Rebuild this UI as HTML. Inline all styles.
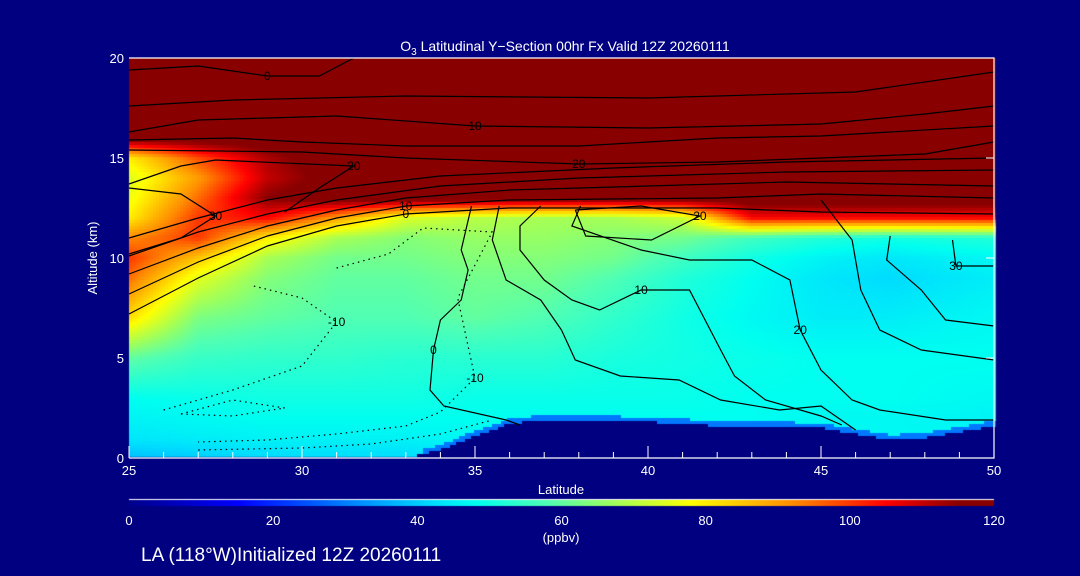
<!DOCTYPE html>
<html><head><meta charset="utf-8">
<style>
html,body{margin:0;padding:0;background:#000080;}
#wrap{position:relative;width:1080px;height:576px;background:#000080;overflow:hidden;font-family:"Liberation Sans",sans-serif;}
canvas{position:absolute;left:0;top:0;}
svg{position:absolute;left:0;top:0;}
text{fill:#fff;font-family:"Liberation Sans",sans-serif;}
</style></head>
<body>
<div id="wrap">
<canvas id="cv" width="1080" height="576"></canvas>
<svg id="sv" width="1080" height="576"></svg>
</div>
<script>
// ---- data ----
const lats = [25,27,29,31,33,35,37,39,41,43,45,47,50];
const alts = [0,1,2,3,5,7,9,10,11,12,13,14,15,16,18,20];
const ozone = [
 [38,40,42,42,42,45,45,45,45,45,45,45,45],
 [44,45,46,46,46,47,47,47,47,47,47,47,47],
 [46,47,48,48,48,48,48,48,48,48,47,47,46],
 [48,49,50,50,50,49,49,49,49,48,48,48,47],
 [60,55,54,54,53,53,53,51,50,49,48,48,48],
 [82,63,60,58,58,60,58,54,50,47,45,45,47],
 [95,75,64,60,60,62,62,58,52,48,44,42,45],
 [100,85,68,62,62,64,64,62,56,50,46,44,47],
 [92,100,80,68,64,66,66,64,62,56,52,50,52],
 [80,100,105,90,74,70,68,68,72,105,105,105,105],
 [76,95,115,120,120,120,120,120,120,120,120,120,120],
 [74,90,110,118,120,120,120,120,120,120,120,120,120],
 [80,98,112,120,120,120,120,120,120,120,120,120,120],
 [120,120,120,120,120,120,120,120,120,120,120,120,120],
 [120,120,120,120,120,120,120,120,120,120,120,120,120],
 [120,120,120,120,120,120,120,120,120,120,120,120,120]
];
const terrainLats = [25,33,34,35,36,37,40,42,45,46,47,48,49,50];
const terrainAlts = [0,0,0.4,1.1,1.7,1.9,1.8,1.6,1.5,1.2,0.9,1.0,1.3,1.6];
const xTicks = [25,30,35,40,45,50];
const yTicks = [0,5,10,15,20];
const cbTicks = [0,20,40,60,80,100,120];
const contours = [
 {lv:"0",pts:[[25,19.4],[27,19.6],[29,19.1],[30.5,19.1],[31.5,20]]},
 {lv:"",pts:[[25,17.6],[28,17.9],[33,18.1],[40,18.0],[46,18.3],[50,19.3]]},
 {lv:"10",pts:[[25,16.3],[27,16.9],[29,17.0],[31,17.1],[35,16.6],[40,16.5],[45,16.7],[48,17.2],[50,17.6]]},
 {lv:"",pts:[[25,15.9],[28,16.0],[30,15.8],[33,15.6],[38,15.6],[42,16.0],[45,16.1],[50,16.6]]},
 {lv:"20",pts:[[25,15.4],[30,15.3],[33,15.0],[38,14.7],[42,14.8],[48,15.2],[50,15.8]]},
 {lv:"",pts:[[25,11.0],[27,12.0],[29,12.9],[31,13.5],[34,14.1],[39,14.5],[44,14.8],[50,15.0]]},
 {lv:"",pts:[[25,10.1],[27,11.3],[29,12.2],[31,12.9],[34,13.6],[38,14.0],[44,14.3],[50,14.4]]},
 {lv:"",pts:[[25,9.2],[27,10.5],[29,11.6],[31,12.4],[33,13.0],[36,13.4],[40,13.6],[44,13.8],[50,13.6]]},
 {lv:"10",pts:[[25,8.2],[27,9.8],[29,11.1],[31,12.0],[33,12.6],[36,12.9],[42,13.0],[45,13.2],[50,13.0]]},
 {lv:"0",pts:[[25,7.2],[27,9.0],[29,10.6],[31,11.6],[33,12.2],[36,12.5],[42,12.5],[45,12.3],[50,12.2]]},
 {lv:"20",pts:[[25,13.7],[26.5,14.6],[27.5,14.9],[31.5,14.6],[30.5,13.5],[29.5,12.3]]},
 {lv:"30",pts:[[25,10.2],[26.5,11.0],[27.5,12.1],[26.5,13.2],[25,13.5]]},
 {lv:"0",pts:[[34.9,12.6],[34.6,10.4],[34.8,9.4],[34.6,7.9],[34.0,6.9],[33.8,5.4],[33.7,3.4],[34.1,2.6],[35.9,1.9],[36.3,1.65]]},
 {lv:"",pts:[[35.7,12.6],[35.5,10.9],[35.9,8.9],[36.9,7.9],[37.5,6.4],[37.9,4.9],[39.2,4.1],[40.9,3.9],[42.1,2.9],[43.8,2.4],[45.0,2.6],[46.0,1.4]]},
 {lv:"10",pts:[[36.9,12.6],[36.3,11.6],[36.3,10.4],[37.0,8.9],[37.8,7.9],[38.6,7.4],[39.8,8.4],[41.2,8.4],[42.1,5.4],[42.5,4.1],[43.4,2.9],[45.0,2.1],[45.6,1.65]]},
 {lv:"20",pts:[[38.05,12.6],[37.8,11.6],[39.8,10.4],[41.2,9.9],[43.0,9.9],[44.1,8.9],[44.4,6.4],[45.0,4.4],[45.9,2.9],[46.7,2.4],[48.6,1.9],[50,1.9]]},
 {lv:"",pts:[[45.0,12.9],[45.9,10.9],[46.15,8.4],[46.7,6.4],[47.9,5.4],[50,4.9]]},
 {lv:"",pts:[[47.0,11.1],[46.9,9.9],[47.9,8.4],[48.6,6.9],[50,6.6]]},
 {lv:"30",pts:[[48.8,10.9],[48.9,9.6],[50,9.6]]},
 {lv:"20",pts:[[37.9,12.4],[38.2,11.1],[40.1,10.9],[41.5,12.1],[39.8,12.6],[37.9,12.4]]}
];
const dotted = [
 {lv:"-10",pts:[[31,9.5],[32.5,10.2],[33.5,11.5],[35.5,11.3],[34.5,8],[35,4],[34,2.3],[33,1.6],[31,1.2],[29,0.9],[27,0.8]]},
 {lv:"-10",pts:[[26,2.4],[28,3.4],[30,4.6],[31,6.8],[30,8.0],[28.6,8.6]]},
 {lv:"",pts:[[26.5,2.2],[28,2.1],[29.5,2.5],[28,2.9],[26.5,2.2]]},
 {lv:"",pts:[[27,0.4],[30,0.5],[32,0.7],[34,1.2],[35.5,1.9]]}
];
// ---- geometry ----
const X0=129,X1=994,Y0=458,Y1=58;
const xs = lat => X0+(lat-25)/25*(X1-X0);
const ys = alt => Y0-alt/20*(Y0-Y1);
const stops=[[0,[0,0,140]],[15,[0,0,255]],[30,[0,128,255]],[42,[0,220,255]],[48,[0,255,240]],[58,[80,255,180]],[66,[150,255,100]],[78,[255,255,0]],[92,[255,140,0]],[105,[255,0,0]],[115,[136,0,0]],[120,[136,0,0]]];
function cmap(v){v=Math.max(0,Math.min(120,v));for(let i=0;i<stops.length-1;i++){const a=stops[i],b=stops[i+1];if(v<=b[0]){const t=(v-a[0])/(b[0]-a[0]);return a[1].map((c,k)=>Math.round(c+(b[1][k]-c)*t));}}return stops[stops.length-1][1];}
function idx(arr,v){for(let i=0;i<arr.length-1;i++){if(v<=arr[i+1])return [i,(v-arr[i])/(arr[i+1]-arr[i])];}return [arr.length-2,1];}
function field(lat,alt){const [i,tx]=idx(lats,lat),[j,ty]=idx(alts,alt);const a=ozone[j][i],b=ozone[j][i+1],c=ozone[j+1][i],d=ozone[j+1][i+1];return (a*(1-tx)+b*tx)*(1-ty)+(c*(1-tx)+d*tx)*ty;}
function terrain(lat){const [i,t]=idx(terrainLats,lat);return terrainAlts[i]+(terrainAlts[i+1]-terrainAlts[i])*t;}
// ---- draw field ----
const ctx=document.getElementById('cv').getContext('2d');
const S=3;
for(let px=X0;px<X1;px+=S){for(let py=Y1;py<Y0;py+=S){
 const lat=25+(px+S/2-X0)/(X1-X0)*25, alt=(Y0-(py+S/2))/(Y0-Y1)*20;
 const tz=terrain(lat);
 let col;
 if(alt<tz) col=[0,0,128]; else if(alt<tz+0.25&&tz>0.2) col=[0,120,255]; else col=cmap(field(lat,alt));
 ctx.fillStyle='rgb('+col.join(',')+')';ctx.fillRect(px,py,S,S);
}}
// colorbar
for(let px=X0;px<X1;px++){const v=(px-X0)/(X1-X0)*120;ctx.fillStyle='rgb('+cmap(v).join(',')+')';ctx.fillRect(px,500,1,6);}
ctx.fillStyle='#fff';ctx.fillRect(X0,499,X1-X0,1);
// ---- svg ----
const NS='http://www.w3.org/2000/svg';const sv=document.getElementById('sv');
function mk(tag,attrs,parent){const e=document.createElementNS(NS,tag);for(const k in attrs)e.setAttribute(k,attrs[k]);(parent||sv).appendChild(e);return e;}
function addContour(c,dash){
 const p=mk('polyline',{points:c.pts.map(q=>xs(q[0]).toFixed(1)+','+ys(q[1]).toFixed(1)).join(' '),fill:'none',stroke:'#000','stroke-width':1.2});
 if(dash)p.setAttribute('stroke-dasharray','1.5 4');
 
 
 if(c.lv){const m=c.pts[Math.floor(c.pts.length/2)];const t=mk('text',{x:xs(m[0]),y:ys(m[1])+4,'font-size':12,'text-anchor':'middle'});t.style.fill='#000';t.textContent=c.lv;
 
 }
}
contours.forEach(c=>addContour(c,false));
dotted.forEach(c=>addContour(c,true));
// axes
const ax=mk('path',{d:`M${X0},${Y1} H${X1} V${Y0} H${X0}`,fill:'none',stroke:'#fff','stroke-width':1.2});


for(let l=25;l<=50;l+=1){const big=l%5===0;const t=mk('line',{x1:xs(l),x2:xs(l),y1:Y0,y2:Y0-(big?12:6),stroke:'#fff'});
 
 }
xTicks.forEach(l=>{const t=mk('text',{x:xs(l),y:Y0+17,'font-size':13,'text-anchor':'middle'});t.textContent=l;
 
 });
yTicks.forEach(a=>{const t=mk('text',{x:X0-5,y:ys(a)+5,'font-size':13,'text-anchor':'end'});t.textContent=a;
 
 
 const r=mk('line',{x1:X1,x2:X1-8,y1:ys(a),y2:ys(a),stroke:'#fff'});
 
 });
cbTicks.forEach(v=>{const t=mk('text',{x:X0+v/120*(X1-X0),y:525,'font-size':13,'text-anchor':'middle'});t.textContent=v;
 
 });
</script>
<svg width="1080" height="576" style="position:absolute;left:0;top:0;pointer-events:none">
<text x="565" y="51" font-size="14" text-anchor="middle">O<tspan font-size="10" dy="4">3</tspan><tspan dy="-4"> Latitudinal Y−Section 00hr  Fx Valid 12Z 20260111</tspan></text>
<text x="561" y="494" font-size="13" text-anchor="middle">Latitude</text>
<text x="97" y="258" font-size="13" text-anchor="middle" transform="rotate(-90 97 258)">Altitude (km)</text>
<text x="561" y="542" font-size="13" text-anchor="middle">(ppbv)</text>
<text x="141" y="561" font-size="19">LA (118°W)Initialized 12Z 20260111</text>
</svg>
</body></html>
